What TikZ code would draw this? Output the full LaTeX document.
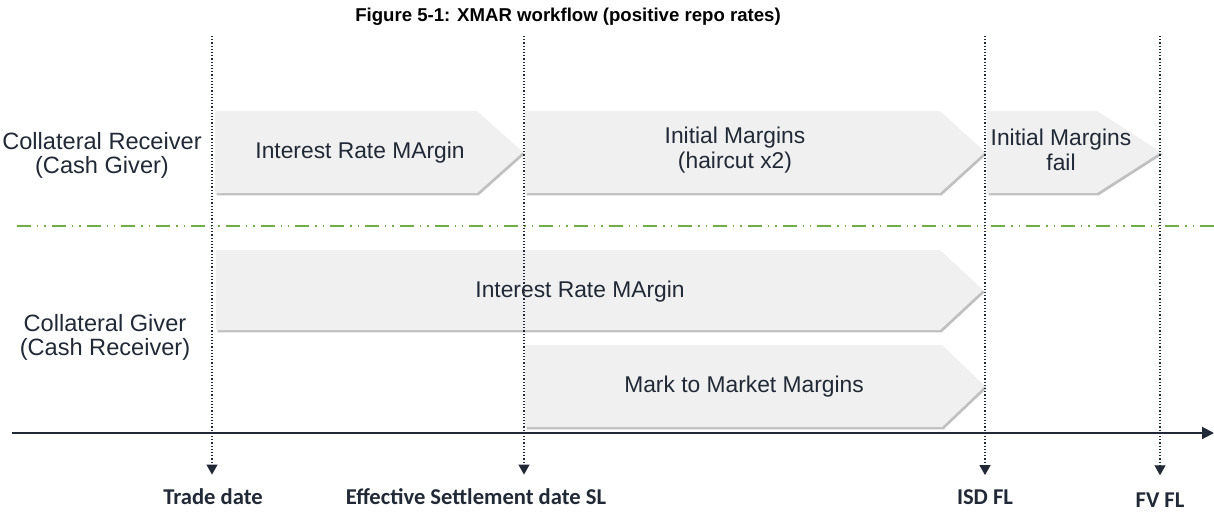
\documentclass[tikz,border=0pt]{standalone}
\usepackage{fontspec}
\setmainfont{Liberation Sans}
\newfontfamily\datefont{Carlito}
\usepackage{xcolor}
\usepackage{tikz}
\usetikzlibrary{positioning,arrows.meta,shadows}

\definecolor{ink}{RGB}{33,41,54}
\definecolor{chevfill}{RGB}{240,240,240}
\definecolor{sepgreen}{RGB}{112,173,71}

\begin{document}
\begin{tikzpicture}[
    x=0.5pt,y=-0.5pt,
    chev/.style={fill=chevfill,drop shadow={shadow xshift=0.8pt,shadow yshift=-1.2pt,fill=black!45,opacity=.55}},
    lab/.style={text=ink,align=center,font=\fontsize{11.4}{12.5}\selectfont,inner sep=0pt},
    datelab/.style={text=ink,font=\datefont\bfseries\fontsize{11.3}{13}\selectfont,inner sep=0pt},
    dateline/.style={ink,line width=0.6pt,densely dotted,-{Triangle[length=5pt,width=5.5pt]}},
    node distance=4mm
  ]
    \useasboundingbox (0,0) rectangle (1214,514);
    \node[font=\bfseries\fontsize{9.3}{11}\selectfont,inner sep=0pt] (title) at (568,17) {Figure 5-1: XMAR workflow (positive repo rates)};

    % roles
    \node[lab,font=\fontsize{11.8}{12}\selectfont] (recv) at (102,155) {Collateral Receiver\\(Cash Giver)};
    \node[lab,font=\fontsize{11.8}{12}\selectfont] (givr) at (105,337) {Collateral Giver\\(Cash Receiver)};

    % chevrons, collateral receiver
    \path[chev] (215,111) -- (477,111) -- (523,152) -- (477,193) -- (215,193) -- cycle;
    \path[chev] (525,111) -- (940,111) -- (985,152) -- (940,193) -- (525,193) -- cycle;
    \path[chev] (987,111) -- (1097,111) -- (1161,152) -- (1097,193) -- (987,193) -- cycle;
    \node[lab] (irm1) at (360,153) {Interest Rate MArgin};
    \node[lab] (im) at (735,150) {Initial Margins\\(haircut x2)};
    \node[lab] (imfail) at (1061,150) {Initial Margins\\fail};

    % separator
    \draw[sepgreen,line width=0.8pt,dash pattern=on 7pt off 3pt on 0.7pt off 3pt on 0.7pt off 3pt] (17,226) -- (1214,226);

    % chevrons, collateral giver
    \path[chev] (216,250) -- (940,250) -- (983,290) -- (940,330) -- (216,330) -- cycle;
    \path[chev] (525,345) -- (942,345) -- (985,386) -- (942,427) -- (525,427) -- cycle;
    \node[lab] (irm2) at (580,292) {Interest Rate MArgin};
    \node[lab] (mtm) at (744,387) {Mark to Market Margins};

    % time axis
    \coordinate (axl) at (12,433);
    \coordinate (axr) at (1214,433);
    \draw[ink,line width=1pt,-{Triangle[length=6pt,width=6pt]}] (axl) -- (axr);

    % dates
    \coordinate (t1) at (212,36);
    \coordinate (t2) at (524,36);
    \coordinate (t3) at (985,36);
    \coordinate (t4) at (1160,36);
    \node[datelab] (trade) at (213,497) {Trade date};
    \node[datelab] (esd) at (476,497) {Effective Settlement date SL};
    \node[datelab] (isd) at (985,497) {ISD FL};
    \node[datelab] (fv) at (1160,500) {FV FL};
    \draw[dateline] (t1) -- ([yshift=7pt]trade.north -| t1);
    \draw[dateline] (t2) -- ([yshift=7pt]esd.north -| t2);
    \draw[dateline] (t3) -- ([yshift=7pt]isd.north -| t3);
    \draw[dateline] (t4) -- ([yshift=8.5pt]fv.north -| t4);
  \end{tikzpicture}
\end{document}
